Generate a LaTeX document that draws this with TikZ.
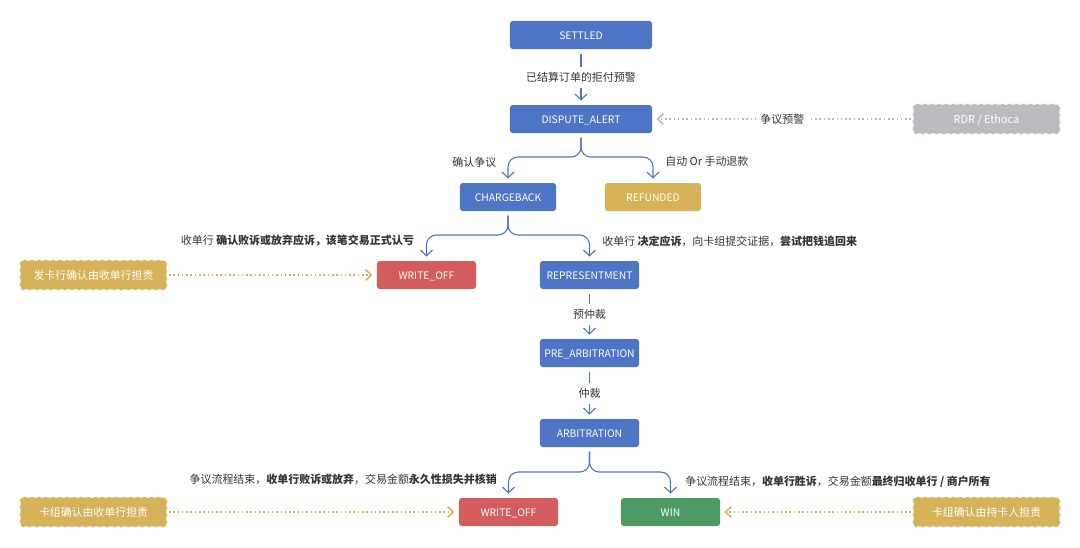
\documentclass[tikz,border=0pt]{standalone}
\usepackage{fontspec}
\setmainfont{Noto Sans CJK SC}
\usetikzlibrary{arrows.meta}
\definecolor{flowblue}{HTML}{4E75C5}
\definecolor{failred}{HTML}{D45C5C}
\definecolor{winggreen}{HTML}{4E9A63}
\definecolor{sidegold}{HTML}{D5B257}
\definecolor{sidegrey}{HTML}{B9BBBF}
\definecolor{labelgrey}{HTML}{333333}
\tikzset{
  statebox/.style={rectangle,rounded corners=2pt,fill=flowblue,text=white,
    minimum width=2.475cm,minimum height=0.7cm,inner sep=0pt,text height=6.6pt,text depth=0.4pt,
    font=\fontsize{7.35pt}{9pt}\selectfont},
  widebox/.style={statebox,minimum width=3.55cm},
  sidebox/.style={statebox,minimum width=3.675cm,minimum height=0.75cm,
    draw=white,densely dashed,line width=0.8pt,font=\fontsize{7.75pt}{9pt}\selectfont},
  flow/.style={draw=flowblue,line width=0.8pt,shorten <=3pt,shorten >=3pt,
    -{Straight Barb[length=4pt,width=8.5pt,line width=0.8pt]}},
  fork/.style={flow,rounded corners=7pt},
  hint/.style={line width=0.8pt,dash pattern=on 1.1pt off 1.95pt,shorten <=1pt,shorten >=3pt,
    -{Straight Barb[length=4pt,width=7.5pt,line width=1.1pt]}},
  note/.style={text=labelgrey,inner sep=0pt,font=\fontsize{7.8pt}{9pt}\selectfont},
  gaplabel/.style={note,fill=white,inner xsep=3pt,inner ysep=4pt,yshift=-0.3pt}
}
\begin{document}
\begin{tikzpicture}[x=0.025cm,y=-0.025cm]
  \useasboundingbox (0,0) rectangle (1080,547);
  % states
  \node[widebox] (settled) at (581,35) {SETTLED};
  \node[widebox] (alert) at (581,119) {DISPUTE\_ALERT};
  \node[statebox,minimum width=2.4cm] (chargeback) at (508,197) {CHARGEBACK};
  \node[statebox,minimum width=2.4cm,fill=sidegold] (refunded) at (653,197) {REFUNDED};
  \node[statebox,fill=failred] (writeoffa) at (426.5,275) {WRITE\_OFF};
  \node[statebox] (represent) at (589.5,275) {REPRESENTMENT};
  \node[statebox] (prearb) at (589.5,353) {PRE\_ARBITRATION};
  \node[statebox] (arb) at (589.5,433) {ARBITRATION};
  \node[statebox,fill=failred] (writeoffb) at (508.5,512) {WRITE\_OFF};
  \node[statebox,fill=winggreen] (win) at (670.5,512) {WIN};
  % side notes
  \node[sidebox,fill=sidegrey] (rdr) at (986.5,119) {RDR / Ethoca};
  \node[sidebox,fill=sidegold] (issuer) at (93.5,275) {发卡行确认由收单行担责};
  \node[sidebox,fill=sidegold] (schemea) at (93.5,512) {卡组确认由收单行担责};
  \node[sidebox,fill=sidegold] (schemeb) at (986.5,512) {卡组确认由持卡人担责};
  % straight flows
  \draw[flow] (settled) -- node[gaplabel] (lblalert) {已结算订单的拒付预警} (alert);
  \draw[flow] (represent) -- node[gaplabel] (lblpre) {预仲裁} (prearb);
  \draw[flow] (prearb) -- node[gaplabel] (lblarb) {仲裁} (arb);
  % forks
  \draw[fork] (alert.south) -- (581,157) -| (chargeback.north);
  \draw[fork] (alert.south) -- (581,157) -| (refunded.north);
  \draw[fork] (chargeback.south) -- (508,235) -| (writeoffa.north);
  \draw[fork] (chargeback.south) -- (508,235) -| (represent.north);
  \draw[fork] (arb.south) -- (589.5,472) -| (writeoffb.north);
  \draw[fork] (arb.south) -- (589.5,472) -| (win.north);
  % dotted hints
  \draw[hint,sidegrey] (rdr) -- node[gaplabel] (lblrdr) {争议预警} (alert);
  \draw[hint,sidegold] (issuer) -- (writeoffa);
  \draw[hint,sidegold] (schemea) -- (writeoffb);
  \draw[hint,sidegold] (schemeb) -- (win);
  % labels
  \node[note,anchor=east] (lblconfirm) at (496.5,162) {确认争议};
  \node[note,anchor=west] (lblrefund) at (665,161.5) {自动 Or 手动退款};
  \node[note,anchor=east] (lblloss) at (414,241) {收单行 \textbf{确认败诉或放弃应诉，该笔交易正式认亏}};
  \node[note,anchor=west] (lblfight) at (602,241) {收单行 \textbf{决定应诉}，向卡组提交证据，\textbf{尝试把钱追回来}};
  \node[note,anchor=east] (lblfinalloss) at (497,479) {争议流程结束，\textbf{收单行败诉或放弃}，交易金额\textbf{永久性损失并核销}};
  \node[note,anchor=west] (lblfinalwin) at (685,482) {争议流程结束，\textbf{收单行胜诉}，交易金额\textbf{最终归收单行 / 商户所有}};
\end{tikzpicture}
\end{document}
